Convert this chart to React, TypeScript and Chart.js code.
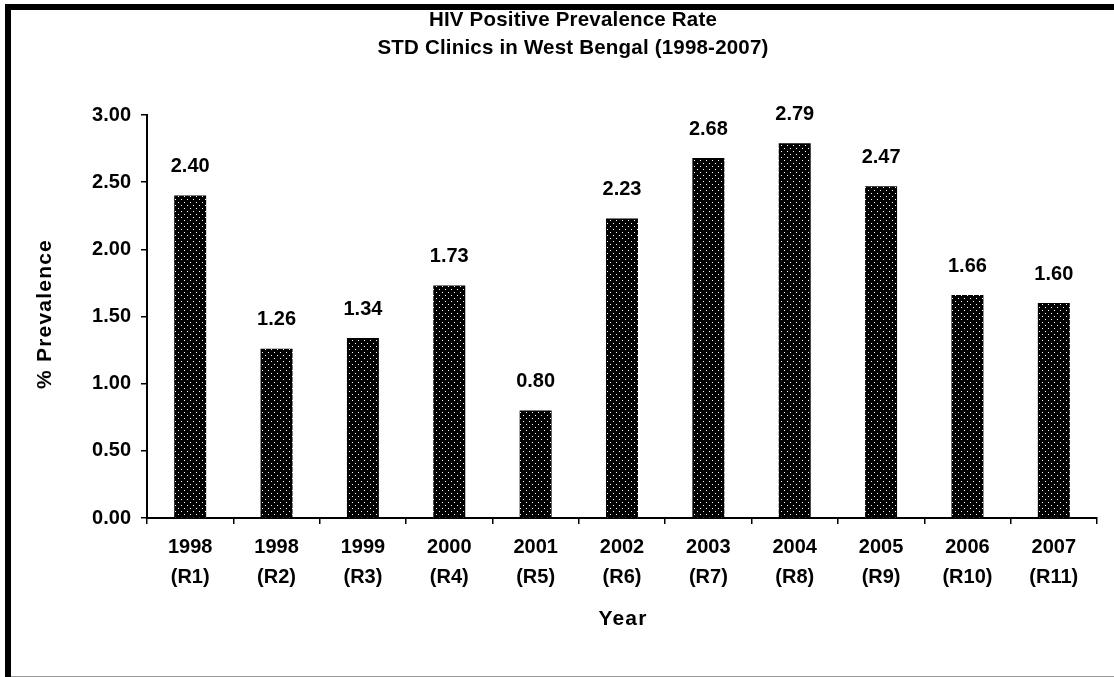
import React, { useEffect, useRef } from "react";
import { Chart, registerables } from "chart.js";

Chart.register(...registerables);

const years = ["1998", "1998", "1999", "2000", "2001", "2002", "2003", "2004", "2005", "2006", "2007"];
const rounds = ["(R1)", "(R2)", "(R3)", "(R4)", "(R5)", "(R6)", "(R7)", "(R8)", "(R9)", "(R10)", "(R11)"];
const prevalence = [2.4, 1.26, 1.34, 1.73, 0.8, 2.23, 2.68, 2.79, 2.47, 1.66, 1.6];
const titleLines = ["HIV Positive Prevalence Rate", "STD Clinics in West Bengal (1998-2007)"];
const yTitle = "% Prevalence";
const xTitle = "Year";

const FONT = "'Liberation Sans', Arial, sans-serif";

function makePattern(): CanvasPattern | string {
  const c = document.createElement("canvas");
  c.width = 6;
  c.height = 6;
  const g = c.getContext("2d");
  if (!g) return "#000";
  g.fillStyle = "#000";
  g.fillRect(0, 0, 6, 6);
  g.fillStyle = "#fff";
  g.fillRect(1, 1, 1, 1);
  g.fillRect(4, 4, 1, 1);
  const p = g.createPattern(c, "repeat");
  return p || "#000";
}

export default function App() {
  const ref = useRef<HTMLCanvasElement | null>(null);

  useEffect(() => {
    const canvas = ref.current;
    if (!canvas) return;
    const pattern = makePattern();

    const framePlugin = {
      id: "frame",
      beforeDraw(chart: any) {
        const ctx = chart.ctx;
        ctx.save();
        ctx.fillStyle = "#fff";
        ctx.fillRect(0, 0, chart.width, chart.height);
        ctx.fillStyle = "#000";
        ctx.fillRect(5, 4, chart.width - 5, 6);
        ctx.fillRect(5, 4, 6, chart.height - 4);
        ctx.fillStyle = "#999";
        ctx.fillRect(11, 676, chart.width - 11, 1);
        ctx.restore();
      },
    };

    const textPlugin = {
      id: "texts",
      afterDraw(chart: any) {
        const ctx = chart.ctx;
        ctx.save();
        ctx.fillStyle = "#000";
        ctx.textAlign = "center";
        ctx.textBaseline = "middle";
        ctx.font = `bold 20.5px ${FONT}`;
        (ctx as any).letterSpacing = "0.2px";
        ctx.fillText(titleLines[0], 573, 20);
        ctx.fillText(titleLines[1], 573, 48);
        ctx.font = `bold 21px ${FONT}`;
        (ctx as any).letterSpacing = "1.2px";
        ctx.fillText(xTitle, 623, 619);
        ctx.save();
        ctx.translate(45, 314);
        ctx.rotate(-Math.PI / 2);
        ctx.fillText(yTitle, 0, 0);
        ctx.restore();
        (ctx as any).letterSpacing = "0px";
        ctx.font = `bold 20px ${FONT}`;
        const meta = chart.getDatasetMeta(0);
        meta.data.forEach((bar: any, i: number) => {
          ctx.fillText(prevalence[i].toFixed(2), bar.x, bar.y - 29);
        });
        ctx.restore();
      },
    };

    const chart = new Chart(canvas, {
      type: "bar",
      data: {
        labels: years.map((y, i) => [y, rounds[i]]),
        datasets: [
          {
            data: prevalence,
            backgroundColor: pattern as any,
            borderColor: "#000",
            borderWidth: 0,
            barPercentage: 0.37,
            categoryPercentage: 1,
          },
        ],
      },
      options: {
        animation: false,
        responsive: false,
        events: [],
        layout: { padding: { left: 0, top: 115, right: 17, bottom: 0 } },
        plugins: {
          legend: { display: false },
          title: { display: false },
          tooltip: { enabled: false },
        },
        scales: {
          x: {
            grid: { offset: true, drawOnChartArea: false, tickLength: 6, color: "#000", lineWidth: 1.5 },
            border: { display: true, color: "#000", width: 2 },
            ticks: {
              color: "#000",
              font: { family: FONT, size: 20, weight: "bold", lineHeight: 1.5 },
              padding: 8,
              maxRotation: 0,
              autoSkip: false,
            },
            afterFit(scale: any) {
              scale.height = 159;
            },
          },
          y: {
            min: 0,
            max: 3,
            grid: { drawOnChartArea: false, tickLength: 6, color: "#000", lineWidth: 1.5 },
            border: { display: true, color: "#000", width: 2 },
            ticks: {
              stepSize: 0.5,
              color: "#000",
              padding: 10,
              font: { family: FONT, size: 20, weight: "bold" },
              callback: (v: any) => Number(v).toFixed(2),
            },
            afterFit(scale: any) {
              scale.width = 147;
            },
          },
        },
      },
      plugins: [framePlugin, textPlugin],
    });

    return () => chart.destroy();
  }, []);

  return (
    <div style={{ position: "absolute", left: 0, top: 0, width: 1114, height: 677 }}>
      <canvas ref={ref} width={1114} height={677} style={{ display: "block" }} />
    </div>
  );
}
